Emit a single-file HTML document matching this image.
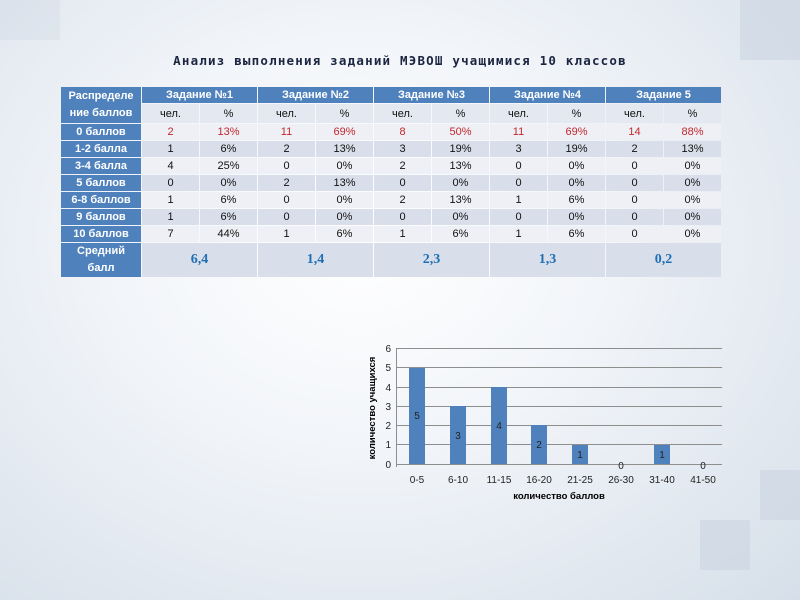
<!DOCTYPE html>
<html><head><meta charset="utf-8"><style>
body{margin:0;width:800px;height:600px;overflow:hidden;font-family:"Liberation Sans","DejaVu Sans",sans-serif;
background:radial-gradient(ellipse at 45% 40%,#ffffff 0%,#f2f5f9 40%,#d6dfe9 100%);position:relative}
.sq{position:absolute;background:#c9d4e0;opacity:.55}
h1{position:absolute;top:53px;left:0;width:800px;text-align:center;margin:0;font-family:"DejaVu Sans Mono","Liberation Mono",monospace;font-size:12.5px;font-weight:bold;color:#1b2540;letter-spacing:1.2px}
table{position:absolute;left:60px;top:86px;border-collapse:separate;border-spacing:1px;font-size:11px}
td{padding:0;text-align:center;height:16px;color:#111}
.h{background:#4f81bd;color:#fff;font-weight:bold}
.s{background:#e4e8f0}
.a td{background:#eef0f5}.b td{background:#d9dfea}
.a td.h,.b td.h{background:#4f81bd}
.r{color:#c0282d!important}
.m{color:#1f6fb5!important;font:bold 14px "Liberation Serif",serif}
</style></head><body>
<div class="sq" style="left:740px;top:0;width:60px;height:60px"></div>
<div class="sq" style="left:700px;top:520px;width:50px;height:50px"></div>
<div class="sq" style="left:760px;top:470px;width:40px;height:50px"></div>
<div class="sq" style="left:0;top:0;width:60px;height:40px;opacity:.3"></div>
<h1>Анализ выполнения заданий МЭВОШ учащимися 10 классов</h1>
<table>
<colgroup><col style="width:80px"><col span="10" style="width:57px"></colgroup>
<tr><td class="h" rowspan="2" style="line-height:17px">Распределе<br>ние баллов</td><td class="h" colspan="2">Задание №1</td><td class="h" colspan="2">Задание №2</td><td class="h" colspan="2">Задание №3</td><td class="h" colspan="2">Задание №4</td><td class="h" colspan="2">Задание 5</td></tr>
<tr style="height:19px"><td class="s">чел.</td><td class="s">%</td><td class="s">чел.</td><td class="s">%</td><td class="s">чел.</td><td class="s">%</td><td class="s">чел.</td><td class="s">%</td><td class="s">чел.</td><td class="s">%</td></tr>
<tr class="a"><td class="h">0 баллов</td><td class="r">2</td><td class="r">13%</td><td class="r">11</td><td class="r">69%</td><td class="r">8</td><td class="r">50%</td><td class="r">11</td><td class="r">69%</td><td class="r">14</td><td class="r">88%</td></tr>
<tr class="b"><td class="h">1-2 балла</td><td>1</td><td>6%</td><td>2</td><td>13%</td><td>3</td><td>19%</td><td>3</td><td>19%</td><td>2</td><td>13%</td></tr>
<tr class="a"><td class="h">3-4 балла</td><td>4</td><td>25%</td><td>0</td><td>0%</td><td>2</td><td>13%</td><td>0</td><td>0%</td><td>0</td><td>0%</td></tr>
<tr class="b"><td class="h">5 баллов</td><td>0</td><td>0%</td><td>2</td><td>13%</td><td>0</td><td>0%</td><td>0</td><td>0%</td><td>0</td><td>0%</td></tr>
<tr class="a"><td class="h">6-8 баллов</td><td>1</td><td>6%</td><td>0</td><td>0%</td><td>2</td><td>13%</td><td>1</td><td>6%</td><td>0</td><td>0%</td></tr>
<tr class="b"><td class="h">9 баллов</td><td>1</td><td>6%</td><td>0</td><td>0%</td><td>0</td><td>0%</td><td>0</td><td>0%</td><td>0</td><td>0%</td></tr>
<tr class="a"><td class="h">10 баллов</td><td>7</td><td>44%</td><td>1</td><td>6%</td><td>1</td><td>6%</td><td>1</td><td>6%</td><td>0</td><td>0%</td></tr>
<tr class="b" style="height:33px"><td class="h" style="line-height:17px">Средний<br>балл</td><td colspan="2" class="m">6,4</td><td colspan="2" class="m">1,4</td><td colspan="2" class="m">2,3</td><td colspan="2" class="m">1,3</td><td colspan="2" class="m">0,2</td></tr>
</table>
<svg style="position:absolute;left:0;top:0" width="800" height="600" font-family="Liberation Sans, DejaVu Sans, sans-serif" font-size="10">
<g stroke="#8e8e8e" stroke-width="1">
<line x1="396" y1="348.5" x2="722" y2="348.5"/><line x1="396" y1="367.5" x2="722" y2="367.5"/><line x1="396" y1="387.5" x2="722" y2="387.5"/><line x1="396" y1="406.5" x2="722" y2="406.5"/><line x1="396" y1="425.5" x2="722" y2="425.5"/><line x1="396" y1="444.5" x2="722" y2="444.5"/><line x1="396" y1="464.5" x2="722" y2="464.5"/>
<line x1="396.5" y1="348" x2="396.5" y2="467"/>
</g>
<g fill="#4f81bd">
<rect x="409" y="368" width="16" height="96"/><rect x="450" y="406" width="16" height="58"/><rect x="491" y="387" width="16" height="77"/><rect x="531" y="425" width="16" height="39"/><rect x="572" y="445" width="16" height="19"/><rect x="654" y="445" width="16" height="19"/>
</g>
<g text-anchor="middle" fill="#222">
<text x="417" y="419">5</text><text x="458" y="439">3</text><text x="499" y="429">4</text><text x="539" y="448">2</text><text x="580" y="458">1</text><text x="621" y="469">0</text><text x="662" y="458">1</text><text x="703" y="469">0</text>
</g>
<g text-anchor="end" fill="#222"><text x="391" y="352">6</text><text x="391" y="371">5</text><text x="391" y="391">4</text><text x="391" y="410">3</text><text x="391" y="429">2</text><text x="391" y="448">1</text><text x="391" y="468">0</text></g>
<g text-anchor="middle" fill="#222"><text x="417" y="483">0-5</text><text x="458" y="483">6-10</text><text x="499" y="483">11-15</text><text x="539" y="483">16-20</text><text x="580" y="483">21-25</text><text x="621" y="483">26-30</text><text x="662" y="483">31-40</text><text x="703" y="483">41-50</text></g>
<text x="559" y="499" text-anchor="middle" font-weight="bold" font-size="9.5">количество баллов</text>
<text transform="translate(375,408) rotate(-90)" text-anchor="middle" font-weight="bold" font-size="9.5">количество учащихся</text>
</svg>
</body></html>
